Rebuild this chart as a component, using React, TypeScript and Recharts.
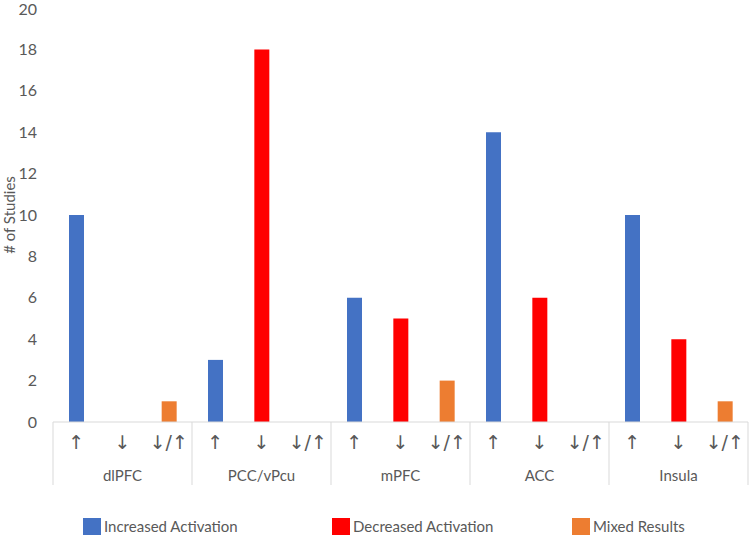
import { BarChart, Bar, XAxis, YAxis, Legend } from "recharts";

const regions = ["dlPFC", "PCC/vPcu", "mPFC", "ACC", "Insula"];
const directions = ["↑", "↓", "↓/↑"];

// one value per bar (region × direction)
const increased = [10, 0, 0, 3, 0, 0, 6, 0, 0, 14, 0, 0, 10, 0, 0];
const decreased = [0, 0, 0, 0, 18, 0, 0, 5, 0, 0, 6, 0, 0, 4, 0];
const mixed = [0, 0, 1, 0, 0, 0, 0, 0, 2, 0, 0, 0, 0, 0, 1];
const yTicks = [0, 2, 4, 6, 8, 10, 12, 14, 16, 18, 20];

const data = increased.map((v, i) => ({
  sub: directions[i % 3],
  group: regions[Math.floor(i / 3)],
  inc: v,
  dec: decreased[i],
  mix: mixed[i],
}));

const W = 750;
const H = 541;
const M = { top: 8, right: 2, left: 0, bottom: 0 };
const FONT = "Lato, 'Open Sans', sans-serif";
const TEXT = "#595959";
const LINE = "#D9D9D9";

const series = [
  { key: "inc", name: "Increased Activation", color: "#4472C4" },
  { key: "dec", name: "Decreased Activation", color: "#FF0000" },
  { key: "mix", name: "Mixed Results", color: "#ED7D31" },
];

// two-level category axis: direction arrow, then region name, with separators
function TwoLevelTick(props: any) {
  const { x, y, payload, index } = props;
  const half = payload.offset || 23;
  const top = y - 8;
  const row = data[index];
  return (
    <g>
      <text x={x} y={y} dy={19} textAnchor="middle" fill={TEXT} fontSize={19} fontFamily="'DejaVu Sans', sans-serif">
        {payload.value}
      </text>
      {index % 3 === 1 && (
        <text x={x} y={y} dy={51} textAnchor="middle" fill={TEXT} fontSize={15} fontFamily={FONT}>
          {row.group}
        </text>
      )}
      {index % 3 === 0 && <line x1={x - half} x2={x - half} y1={top} y2={top + 63} stroke={LINE} />}
      {index === data.length - 1 && <line x1={x + half} x2={x + half} y1={top} y2={top + 63} stroke={LINE} />}
    </g>
  );
}

function LegendBox() {
  const lefts = [83, 332, 572];
  return (
    <div style={{ position: "relative", height: 45, fontFamily: FONT, fontSize: 15, color: TEXT }}>
      {series.map((s, i) => (
        <div key={s.key} style={{ position: "absolute", left: lefts[i], top: 29, display: "flex", alignItems: "center" }}>
          <span style={{ width: 18, height: 17, background: s.color, marginRight: 3, display: "inline-block" }} />
          <span>{s.name}</span>
        </div>
      ))}
    </div>
  );
}

export default function App() {
  return (
    <div style={{ position: "absolute", left: 0, top: 0, background: "#fff" }}>
      <BarChart width={W} height={H} data={data} margin={M} barSize={15}>
        <XAxis dataKey="sub" interval={0} height={66} tickLine={false} axisLine={{ stroke: LINE }} tick={<TwoLevelTick />} />
        <YAxis
          width={53}
          domain={[0, 20]}
          ticks={yTicks}
          tickLine={false}
          axisLine={false}
          tickMargin={10}
          tick={{ fill: TEXT, fontSize: 16, fontFamily: FONT }}
          label={{
            content: () => (
              <text x={9} y={215} transform="rotate(-90,9,215)" textAnchor="middle" dominantBaseline="central" fill={TEXT} fontSize={15} fontFamily={FONT}>
                # of Studies
              </text>
            ),
          }}
        />
        <Legend verticalAlign="bottom" height={53} content={<LegendBox />} />
        {series.map((s) => (
          <Bar key={s.key} dataKey={s.key} name={s.name} stackId="a" fill={s.color} isAnimationActive={false} />
        ))}
      </BarChart>
    </div>
  );
}
